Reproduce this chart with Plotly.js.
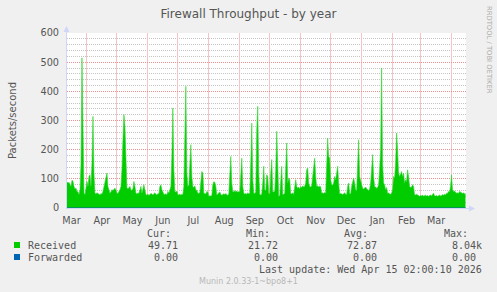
<!DOCTYPE html>
<html><head><meta charset="utf-8">
<script src="https://cdn.plot.ly/plotly-3.0.1.min.js"></script>
<style>html,body{margin:0;padding:0;background:#F0F0F0;}#chart{width:497px;height:292px;}</style>
</head><body><div id="chart"></div>
<script>
// ---- data ----
const startDate = '2025-03-12';   // first daily sample
const received = [
 90, 85, 88, 80, 74, 95, 92, 74, 65, 68,
 57, 55, 46, 63, 150, 515, 200, 51, 46, 63,
 91, 74, 108, 114, 74, 154, 314, 120, 51, 48,
 52, 50, 46, 45, 50, 47, 57, 74, 91, 108,
 120, 74, 63, 51, 55, 63, 60, 66, 68, 62,
 51, 50, 55, 63, 74, 131, 234, 320, 280, 120,
 70, 65, 72, 74, 63, 60, 66, 91, 74, 51,
 48, 52, 50, 68, 74, 51, 63, 80, 63, 46,
 44, 48, 43, 47, 50, 48, 45, 49, 52, 47,
 45, 50, 48, 74, 80, 63, 50, 47, 46, 49,
 45, 57, 51, 68, 74, 177, 343, 131, 57, 55,
 58, 46, 45, 48, 44, 47, 46, 74, 314, 417,
 120, 74, 80, 154, 217, 108, 74, 70, 76, 63,
 60, 51, 50, 53, 108, 125, 120, 51, 50, 48,
 57, 55, 40, 42, 41, 43, 80, 90, 88, 75,
 45, 48, 50, 55, 47, 44, 46, 49, 46, 50,
 45, 44, 48, 97, 177, 86, 57, 55, 60, 56,
 58, 54, 57, 55, 120, 171, 74, 51, 48, 50,
 47, 52, 49, 50, 154, 291, 97, 51, 50, 55,
 269, 349, 120, 46, 45, 48, 86, 143, 63, 60,
 114, 108, 51, 48, 120, 166, 57, 55, 58, 131,
 263, 86, 40, 42, 97, 143, 46, 47, 51, 131,
 223, 86, 103, 97, 50, 48, 52, 46, 74, 97,
 74, 68, 72, 65, 74, 70, 76, 72, 75, 86,
 131, 137, 86, 74, 72, 76, 108, 154, 171, 108,
 74, 76, 72, 75, 73, 51, 52, 50, 53, 51,
 131, 240, 177, 171, 97, 80, 78, 86, 108, 97,
 120, 143, 86, 48, 50, 47, 46, 49, 52, 47,
 46, 74, 86, 50, 48, 74, 97, 103, 86, 63,
 60, 131, 234, 108, 91, 80, 68, 65, 70, 72,
 66, 63, 60, 65, 86, 131, 183, 108, 74, 72,
 68, 70, 80, 131, 200, 480, 150, 86, 80, 63,
 70, 50, 52, 48, 47, 51, 63, 108, 103, 154,
 257, 200, 120, 108, 120, 125, 108, 120, 86, 97,
 91, 131, 108, 74, 70, 72, 80, 74, 46, 45,
 47, 44, 42, 40, 43, 41, 45, 40, 42, 44,
 41, 43, 40, 42, 45, 41, 46, 51, 42, 41,
 43, 40, 42, 45, 41, 42, 46, 44, 47, 45,
 51, 50, 57, 55, 74, 114, 63, 57, 58, 55,
 51, 52, 50, 57, 55, 52, 50, 52, 48, 49.71
];
const forwardedDates = ['2025-03-12', '2026-04-15'];
const forwarded = [0, 0];

const monthTickFormat = '%b';      // month labels: Mar, Apr, ... Mar
const monthStart = '2025-04-01';

const seriesNames = ['Received', 'Forwarded'];
const seriesColors = ['#00CC00', '#0066B3'];
const curVals = ['49.71', '0.00'];
const minVals = ['21.72', '0.00'];
const avgVals = ['72.87', '0.00'];
const maxVals = ['8.04k', '0.00'];
const titleText = 'Firewall Throughput - by year';
const yTitle = 'Packets/second';
const lastUpdate = 'Last update: Wed Apr 15 02:00:10 2026';
const watermark = 'Munin 2.0.33-1~bpo8+1';
const sideText = 'RRDTOOL / TOBI OETIKER';

// ---- build ----
const t0 = Date.parse(startDate + 'T00:00:00Z');
const recDates = received.map((_, i) => new Date(t0 + i * 86400000).toISOString().slice(0, 10));

const W = 497, H = 292, L = 67, R = 31, T = 33, B = 84;
const PW = W - L - R, PH = H - T - B;
const px = x => (x - L) / PW;
const py = y => (T + PH - y) / PH;

const FONT = '#555555';
const MONO = 'DejaVu Sans Mono';
const SANS = 'DejaVu Sans';
const MGRID = '#EC9090';
const XGRID = '#F6C4C4';
const GRID = '#C4C4C4';
const XRANGE = ['2025-03-12', '2026-04-15 12:00'];

const traces = [
  { x: recDates, y: received, type: 'scatter', mode: 'lines', name: seriesNames[0],
    line: { color: '#33D633', width: 0.6 }, fill: 'tozeroy', fillcolor: seriesColors[0], hoverinfo: 'skip' },
  { x: forwardedDates, y: forwarded, type: 'scatter', mode: 'lines', name: seriesNames[1],
    line: { color: seriesColors[1], width: 1 }, hoverinfo: 'skip' }
];

const ann = [];
const shapes = [];
const colRight = { cur: 185, min: 285.3, avg: 384.3, max: 483.3 };
const hdrRight = { cur: 171.7, min: 271, avg: 369.3, max: 469 };
const hdrText = { cur: 'Cur:', min: 'Min:', avg: 'Avg:', max: 'Max:' };
const cols = { cur: curVals, min: minVals, avg: avgVals, max: maxVals };
function txt(text, x, y, xanchor, size, color, family, extra) {
  ann.push(Object.assign({ text: text, x: px(x), y: py(y), xref: 'paper', yref: 'paper',
    xanchor: xanchor, yanchor: 'middle', showarrow: false,
    font: { family: family || MONO, size: size || 10, color: color || FONT }, borderpad: 0 }, extra || {}));
}
Object.keys(cols).forEach(k => {
  txt(hdrText[k], hdrRight[k], 233.5, 'right');
  cols[k].forEach((v, i) => {
    const s = /[a-z]$/i.test(v) ? v : v + '\u00a0';
    txt(s, colRight[k], 245 + i * 12, 'right');
  });
});
seriesNames.forEach((n, i) => {
  txt(n, 26.5, 245 + i * 12, 'left');
  shapes.push({ type: 'rect', xref: 'paper', yref: 'paper', x0: px(14), x1: px(20),
    y0: py(242 + i * 12), y1: py(248 + i * 12), fillcolor: seriesColors[i], line: { width: 0 } });
});
txt(lastUpdate, 483.3, 269.5, 'right');
txt(watermark, 248.5, 281, 'center', 8, '#B8B8B8', SANS);
txt(sideText, 489, 50, 'center', 6.8, '#ACACAC', SANS, { textangle: 90 });

// axis arrows / extensions
const AX = '#CFD6F8';
shapes.push({ type: 'line', xref: 'paper', yref: 'paper', x0: px(66.5), x1: px(66.5), y0: py(33), y1: py(29), line: { color: AX, width: 1 } });
shapes.push({ type: 'path', xref: 'paper', yref: 'paper', path:
  `M ${px(63.5)} ${py(32)} L ${px(69.5)} ${py(32)} L ${px(66.5)} ${py(26)} Z`, fillcolor: AX, line: { width: 0 } });
shapes.push({ type: 'line', xref: 'paper', yref: 'paper', x0: px(466), x1: px(470), y0: py(208.5), y1: py(208.5), line: { color: AX, width: 1 } });
shapes.push({ type: 'path', xref: 'paper', yref: 'paper', path:
  `M ${px(469)} ${py(205.5)} L ${px(469)} ${py(211.5)} L ${px(475)} ${py(208.5)} Z`, fillcolor: AX, line: { width: 0 } });

const layout = {
  width: W, height: H, margin: { l: L, r: R, t: T, b: B },
  paper_bgcolor: '#F0F0F0', plot_bgcolor: '#FFFFFF', showlegend: false,
  font: { family: SANS, color: FONT, size: 10 },
  title: { text: titleText, x: 0.5, xanchor: 'center', xref: 'container', y: 1 - 13.5 / H, yanchor: 'middle', yref: 'container',
    font: { family: SANS, size: 12, color: FONT } },
  xaxis: { type: 'date', range: XRANGE, dtick: 'M1', tick0: monthStart, tickformat: monthTickFormat, ticklabelmode: 'period',
    showgrid: true, gridcolor: XGRID, griddash: 'solid', gridwidth: 1,
    ticks: '', tickfont: { family: SANS, size: 9.7, color: FONT }, ticklabelstandoff: 3,
    showline: true, linecolor: AX, linewidth: 1, zeroline: false, fixedrange: true },
  yaxis: { range: [0, 600], dtick: 100, tick0: 0, showgrid: true, gridcolor: MGRID, griddash: '1px,1px',
    ticks: '', tickfont: { family: SANS, size: 9.7, color: FONT }, ticklabelstandoff: 5,
    showline: true, linecolor: AX, linewidth: 1, zeroline: false, fixedrange: true,
    minor: { dtick: 20, showgrid: true, gridcolor: GRID, griddash: '1px,1px', ticks: '' },
    title: { text: yTitle, font: { family: SANS, size: 10, color: FONT }, standoff: 22 } },
  annotations: ann, shapes: shapes
};
Plotly.newPlot('chart', traces, layout, { staticPlot: true, displayModeBar: false });
</script></body></html>
